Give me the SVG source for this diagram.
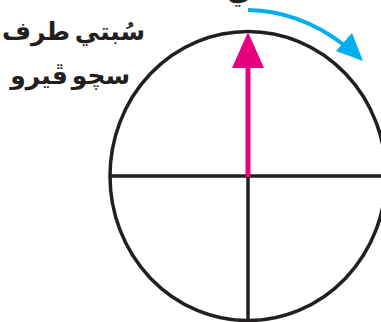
<svg xmlns="http://www.w3.org/2000/svg" width="381" height="322" viewBox="0 0 381 322">
<style>
.ln{stroke:#231f20;stroke-width:3.5;fill:none}
.lbl{font-family:"DejaVu Sans","Noto Sans",sans-serif;font-weight:bold;font-size:25px;fill:#231f20;text-anchor:middle}
</style>
<rect width="381" height="322" fill="#fff"/>
<g id="circle">
<ellipse class="ln" cx="248" cy="176" rx="138" ry="144.5"/>
</g>
<g id="connectors">
<line class="ln" x1="110" y1="176" x2="383" y2="176"/>
<line class="ln" x1="248" y1="176" x2="248" y2="322"/>
<line x1="248" y1="177" x2="248" y2="66" stroke="#e6007e" stroke-width="5"/>
<path d="M248,32 L264,68 L232,68 Z" fill="#e6007e"/>
<path d="M248,10 Q300,11 344,45" fill="none" stroke="#00aeef" stroke-width="4"/>
<path d="M363,61 L336,51 L352,33 Z" fill="#00aeef"/>
</g>
<g id="labels">
<text class="lbl" x="110" y="40">سُبتي</text>
<text class="lbl" x="36" y="40">طرف</text>
<text class="lbl" x="101" y="84">سچو</text>
<text class="lbl" x="39" y="84">ڦيرو</text>
<text class="lbl" x="239" y="0" font-size="24">ي</text>
</g>
</svg>
